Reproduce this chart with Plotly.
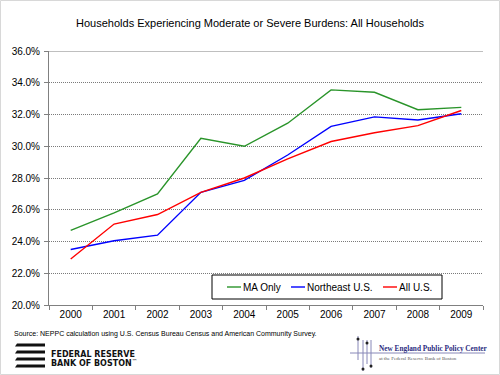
import plotly.graph_objects as go

years = ["2000", "2001", "2002", "2003", "2004", "2005", "2006", "2007", "2008", "2009"]
ma_only = [24.7, 25.8, 27.0, 30.5, 30.0, 31.45, 33.55, 33.4, 32.3, 32.45]
northeast = [23.5, 24.05, 24.4, 27.1, 27.85, 29.45, 31.25, 31.85, 31.65, 32.05]
all_us = [22.9, 25.1, 25.7, 27.1, 28.0, 29.2, 30.3, 30.85, 31.3, 32.25]
series_names = ["MA Only", "Northeast U.S.", "All U.S."]
colors = ["#2a942a", "#0000ff", "#ff0000"]
y_ticks = [20, 22, 24, 26, 28, 30, 32, 34, 36]
y_tick_labels = [f"{v:.1f}%" for v in y_ticks]

FONT = "Liberation Sans, Arial, sans-serif"

fig = go.Figure()
for name, vals, c in zip(series_names, [ma_only, northeast, all_us], colors):
    fig.add_trace(go.Scatter(x=years, y=vals, mode="lines", name=name,
                             line=dict(color=c, width=1.4), showlegend=False,
                             hoverinfo="skip"))

W, H = 500, 375
L, R, T, B = 49, 17, 51, 70
PW, PH = W - L - R, H - T - B


def px(x):
    return (x - L) / PW


def py(y):
    return (H - B - y) / PH


fig.update_layout(
    width=W, height=H,
    margin=dict(l=L, r=R, t=T, b=B),
    paper_bgcolor="white", plot_bgcolor="white",
    font=dict(family=FONT, size=10, color="#000"),
    title=dict(text="Households Experiencing Moderate or Severe Burdens: All Households",
               x=250 / W, xanchor="center", xref="container",
               y=1 - 23.5 / H, yanchor="middle",
               font=dict(family=FONT, size=11, color="#000")),
    xaxis=dict(type="category", tickson="boundaries", ticks="outside", ticklen=4,
               tickcolor="#808080", showline=True, linecolor="#808080", linewidth=1,
               showgrid=False, tickfont=dict(size=10), range=[-0.5, 9.5]),
    yaxis=dict(range=[20, 36], tickvals=y_ticks, ticktext=y_tick_labels,
               ticks="outside", ticklen=4, tickcolor="#808080",
               showline=True, linecolor="#808080", linewidth=1,
               showgrid=True, gridcolor="#7a7a7a", griddash="1px,1px", gridwidth=1,
               zeroline=False, tickfont=dict(size=10), ticklabelstandoff=2),
)

shapes = []
annotations = []
# top solid gridline
shapes.append(dict(type="line", xref="paper", yref="y", x0=0, x1=1, y0=36, y1=36,
                   line=dict(color="#808080", width=1)))
# outer frame
shapes.append(dict(type="rect", xref="paper", yref="paper",
                   x0=px(0.5), x1=px(W - 0.5), y0=py(H - 0.5), y1=py(0.5),
                   line=dict(color="#d8d8d8", width=1)))

# manual legend
shapes.append(dict(type="rect", xref="paper", yref="paper",
                   x0=px(212), x1=px(442), y0=py(299), y1=py(275),
                   line=dict(color="#000", width=1), fillcolor="white"))
leg_x = [227, 291, 383]
for name, c, lx in zip(series_names, colors, leg_x):
    shapes.append(dict(type="line", xref="paper", yref="paper",
                       x0=px(lx), x1=px(lx + 14), y0=py(287), y1=py(287),
                       line=dict(color=c, width=1.4)))
    annotations.append(dict(text=name, xref="paper", yref="paper", x=px(lx + 13.5),
                            y=py(287), xanchor="left", yanchor="middle", showarrow=False,
                            font=dict(family=FONT, size=10, color="#000")))

# source note
annotations.append(dict(text="Source: NEPPC calculation using U.S. Census Bureau Census and American Community Survey.",
                        xref="paper", yref="paper", x=px(12), y=py(334), xanchor="left",
                        yanchor="middle", showarrow=False,
                        font=dict(family=FONT, size=7, color="#000")))

# Federal Reserve logo bars
for yy in [345, 352, 359, 366]:
    shapes.append(dict(type="path", xref="paper", yref="paper",
                       path=f"M {px(17)} {py(yy - 1.6)} L {px(45)} {py(yy - 1.6)} L {px(45)} {py(yy + 1.6)} L {px(15)} {py(yy + 1.6)} Z",
                       fillcolor="#111", line=dict(width=0)))
annotations.append(dict(text="<b>FEDERAL RESERVE</b>", xref="paper", yref="paper", x=px(49), y=py(354),
                        xanchor="left", yanchor="middle", showarrow=False,
                        font=dict(family="DejaVu Sans, sans-serif", size=8, color="#111")))
annotations.append(dict(text="<b>BANK OF BOSTON</b><sup>™</sup>", xref="paper", yref="paper", x=px(49), y=py(363),
                        xanchor="left", yanchor="middle", showarrow=False,
                        font=dict(family="DejaVu Sans, sans-serif", size=8, color="#111")))

# NEPPC logo
for x0, y0, y1 in [(358, 336, 360), (363, 340, 371), (367, 340, 364), (371, 340, 368)]:
    shapes.append(dict(type="line", xref="paper", yref="paper", x0=px(x0), x1=px(x0),
                       y0=py(y0), y1=py(y1), line=dict(color="#8888b8", width=1)))
shapes.append(dict(type="line", xref="paper", yref="paper", x0=px(350), x1=px(485),
                   y0=py(353), y1=py(353), line=dict(color="#8888b8", width=1)))
for dx, dy in [(358, 339), (367, 343), (363, 369), (371, 366)]:
    shapes.append(dict(type="circle", xref="paper", yref="paper",
                       x0=px(dx - 1.5), x1=px(dx + 1.5), y0=py(dy - 1.5), y1=py(dy + 1.5),
                       fillcolor="#222", line=dict(width=0)))
annotations.append(dict(text="<b>New England Public Policy Center</b>", xref="paper", yref="paper",
                        x=px(377), y=py(348), xanchor="left", yanchor="middle", showarrow=False,
                        font=dict(family="Liberation Serif, serif", size=7.3, color="#2b2b80")))
annotations.append(dict(text="at the Federal Reserve Bank of Boston", xref="paper", yref="paper",
                        x=px(377), y=py(358), xanchor="left", yanchor="middle", showarrow=False,
                        font=dict(family="Liberation Serif, serif", size=5, color="#555")))

fig.update_layout(shapes=shapes, annotations=annotations)
fig.write_html("out.html", config={"displayModeBar": False},
               post_script="document.body.style.margin='0';")
